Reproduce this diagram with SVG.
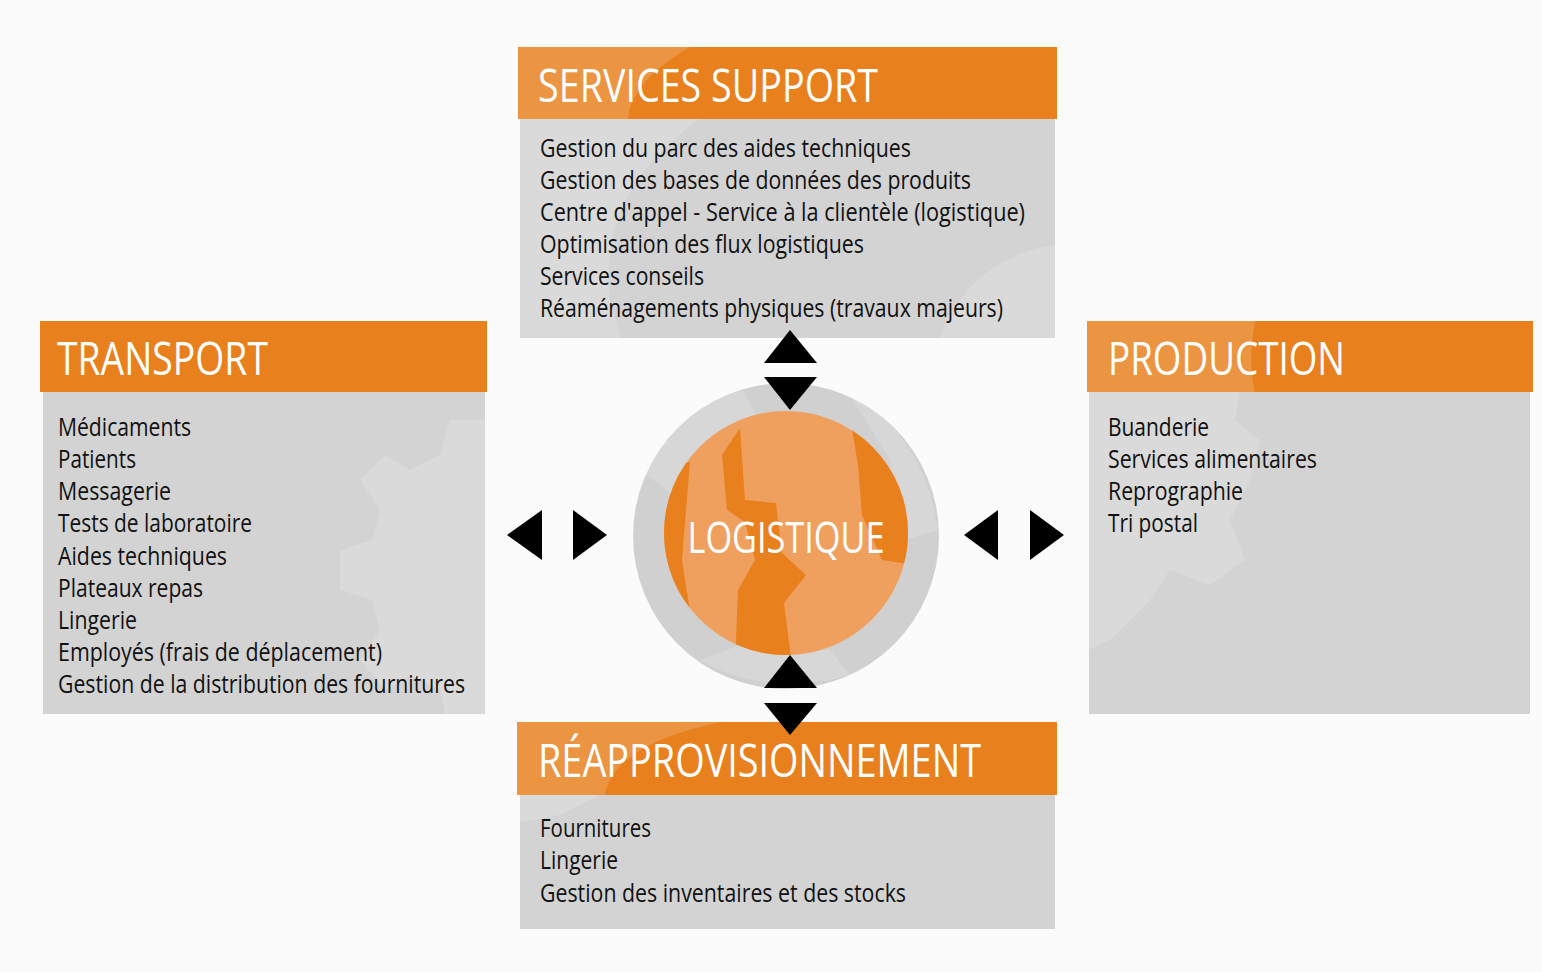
<svg xmlns="http://www.w3.org/2000/svg" width="1542" height="972" viewBox="0 0 1542 972">
<defs>
<style>
.hdr{fill:#e8801e}
.body{fill:#d3d3d3}
.ht{fill:#ffffff;font-family:"Open Sans","Noto Sans","Liberation Sans",sans-serif;font-size:46px;}
.bt{fill:#111111;font-family:"Open Sans","Noto Sans","Liberation Sans",sans-serif;font-size:25px;}
.arr{fill:#000000}
.wm{fill:#ffffff;opacity:0.16}
</style>
<clipPath id="inner"><circle cx="786" cy="533" r="122"/></clipPath>
</defs>
<rect x="0" y="0" width="1542" height="972" fill="#fbfbfb"/>

<g id="services-support">
<rect class="body" x="520" y="119" width="535" height="219"/>
<path class="wm" d="M520,119 L700,119 C640,160 600,220 610,300 L620,338 L520,338 Z"/>
<path class="wm" d="M940,338 C960,280 1010,250 1055,245 L1055,338 Z"/>
<rect class="hdr" x="518" y="47" width="539" height="72"/>
<path class="wm" d="M518,47 L690,47 C650,70 630,95 628,119 L518,119 Z"/>
<text class="ht" x="538" y="102" textLength="340" lengthAdjust="spacingAndGlyphs">SERVICES SUPPORT</text>
<text class="bt" x="540" y="157" textLength="371" lengthAdjust="spacingAndGlyphs">Gestion du parc des aides techniques</text>
<text class="bt" x="540" y="189" textLength="431" lengthAdjust="spacingAndGlyphs">Gestion des bases de données des produits</text>
<text class="bt" x="540" y="221" textLength="485" lengthAdjust="spacingAndGlyphs">Centre d'appel - Service à la clientèle (logistique)</text>
<text class="bt" x="540" y="253" textLength="324" lengthAdjust="spacingAndGlyphs">Optimisation des flux logistiques</text>
<text class="bt" x="540" y="285" textLength="164" lengthAdjust="spacingAndGlyphs">Services conseils</text>
<text class="bt" x="540" y="317" textLength="463" lengthAdjust="spacingAndGlyphs">Réaménagements physiques (travaux majeurs)</text>
</g>

<g id="transport">
<rect class="body" x="43" y="392" width="442" height="322"/>
<path class="wm" d="M485,420 L450,420 L440,455 L410,470 L385,455 L360,480 L380,510 L372,540 L340,550 L340,590 L372,600 L380,630 L360,660 L385,690 L410,676 L440,690 L445,714 L485,714 Z"/>
<rect class="hdr" x="40" y="321" width="447" height="71"/>
<text class="ht" x="57" y="375" textLength="211" lengthAdjust="spacingAndGlyphs">TRANSPORT</text>
<text class="bt" x="58" y="436" textLength="133" lengthAdjust="spacingAndGlyphs">Médicaments</text>
<text class="bt" x="58" y="468" textLength="78" lengthAdjust="spacingAndGlyphs">Patients</text>
<text class="bt" x="58" y="500" textLength="113" lengthAdjust="spacingAndGlyphs">Messagerie</text>
<text class="bt" x="58" y="532" textLength="194" lengthAdjust="spacingAndGlyphs">Tests de laboratoire</text>
<text class="bt" x="58" y="565" textLength="169" lengthAdjust="spacingAndGlyphs">Aides techniques</text>
<text class="bt" x="58" y="597" textLength="145" lengthAdjust="spacingAndGlyphs">Plateaux repas</text>
<text class="bt" x="58" y="629" textLength="79" lengthAdjust="spacingAndGlyphs">Lingerie</text>
<text class="bt" x="58" y="661" textLength="324" lengthAdjust="spacingAndGlyphs">Employés (frais de déplacement)</text>
<text class="bt" x="58" y="693" textLength="407" lengthAdjust="spacingAndGlyphs">Gestion de la distribution des fournitures</text>
</g>

<g id="production">
<rect class="body" x="1089" y="392" width="441" height="322"/>
<path class="wm" d="M1089,392 L1240,392 L1235,420 L1260,440 L1250,480 L1230,520 L1245,560 L1210,585 L1170,570 L1150,600 L1110,640 L1089,650 Z"/>
<rect class="hdr" x="1087" y="321" width="446" height="71"/>
<path class="wm" d="M1087,321 L1255,321 C1250,350 1250,370 1255,392 L1087,392 Z"/>
<text class="ht" x="1108" y="375" textLength="237" lengthAdjust="spacingAndGlyphs">PRODUCTION</text>
<text class="bt" x="1108" y="436" textLength="101" lengthAdjust="spacingAndGlyphs">Buanderie</text>
<text class="bt" x="1108" y="468" textLength="209" lengthAdjust="spacingAndGlyphs">Services alimentaires</text>
<text class="bt" x="1108" y="500" textLength="135" lengthAdjust="spacingAndGlyphs">Reprographie</text>
<text class="bt" x="1108" y="532" textLength="90" lengthAdjust="spacingAndGlyphs">Tri postal</text>
</g>

<g id="reapprovisionnement">
<rect class="body" x="520" y="795" width="535" height="134"/>
<path class="wm" d="M520,795 L600,795 L560,815 L520,822 Z"/>
<rect class="hdr" x="517" y="722" width="540" height="73"/>
<path class="wm" d="M517,722 L720,722 C640,740 610,765 605,795 L517,795 Z"/>
<text class="ht" x="538" y="777" textLength="443" lengthAdjust="spacingAndGlyphs">RÉAPPROVISIONNEMENT</text>
<text class="bt" x="540" y="837" textLength="111" lengthAdjust="spacingAndGlyphs">Fournitures</text>
<text class="bt" x="540" y="869" textLength="78" lengthAdjust="spacingAndGlyphs">Lingerie</text>
<text class="bt" x="540" y="902" textLength="366" lengthAdjust="spacingAndGlyphs">Gestion des inventaires et des stocks</text>
</g>

<g id="logistique">
<circle cx="786" cy="536" r="153" fill="#d0d0d0"/>
<path class="wm" d="M640,470 C660,420 700,395 740,386 L760,420 L700,450 L680,500 Z"/>
<path class="wm" d="M850,395 C900,420 930,470 938,530 L905,540 L890,460 Z"/>
<path class="wm" d="M700,660 C740,685 800,690 850,675 L830,650 L740,645 Z"/>
<circle cx="786" cy="533" r="122" fill="#f0a05e"/>
<g clip-path="url(#inner)" fill="#e8801e">
<path d="M660,470 L690,462 L682,560 L696,650 L660,660 Z"/>
<path d="M722,455 L740,428 L745,500 L776,503 L782,553 L806,575 L784,603 L792,665 L735,665 L738,590 L755,560 L745,522 L727,510 Z"/>
<path d="M848,405 L915,405 L915,565 L882,560 L862,515 L858,465 Z"/>
</g>
<text x="786" y="553" text-anchor="middle" fill="#ffffff" font-family="'Open Sans','Noto Sans','Liberation Sans',sans-serif" font-size="44" textLength="197" lengthAdjust="spacingAndGlyphs">LOGISTIQUE</text>
</g>

<g id="connectors">
<polygon class="arr" points="790,330 817,363 764,363"/>
<polygon class="arr" points="764,377 817,377 790,410"/>
<polygon class="arr" points="790,655 817,688 764,688"/>
<polygon class="arr" points="764,703 817,703 790,735"/>
<polygon class="arr" points="507,535 542,510 542,560"/>
<polygon class="arr" points="573,510 607,535 573,560"/>
<polygon class="arr" points="964,535 998,510 998,560"/>
<polygon class="arr" points="1030,510 1064,535 1030,560"/>
</g>
</svg>
